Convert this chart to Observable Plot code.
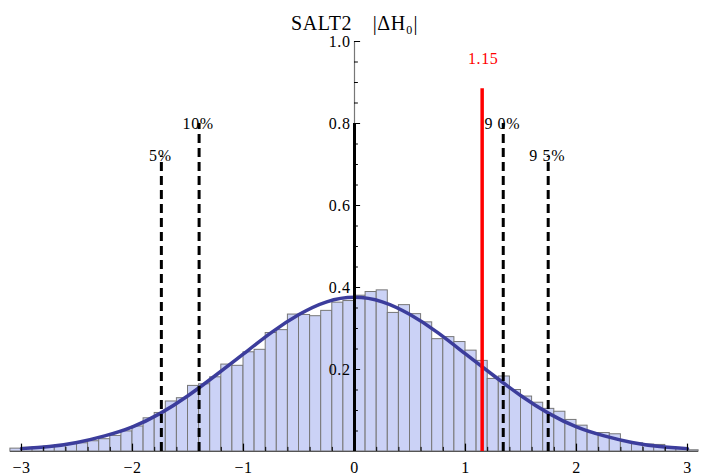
<!DOCTYPE html>
<html><head><meta charset="utf-8">
<script src="https://cdn.jsdelivr.net/npm/d3@7"></script>
<script src="https://cdn.jsdelivr.net/npm/@observablehq/plot@0.6"></script>
<style>body{margin:0;background:#fff} svg text{letter-spacing:0.6px}</style>
</head><body><div id="chart"></div>
<script>
// Histogram bins (left edges, width 0.1) and heights
const binLo = [-3.1,-3.0,-2.9,-2.8,-2.7,-2.6,-2.5,-2.4,-2.3,-2.2,-2.1,-2.0,-1.9,-1.8,-1.7,-1.6,-1.5,-1.4,-1.3,-1.2,-1.1,-1.0,-0.9,-0.8,-0.7,-0.6,-0.5,-0.4,-0.3,-0.2,-0.1,
  0.0,0.1,0.2,0.3,0.4,0.5,0.6,0.7,0.8,0.9,1.0,1.1,1.2,1.3,1.4,1.5,1.6,1.7,1.8,1.9,2.0,2.1,2.2,2.3,2.4,2.5,2.6,2.7,2.8,2.9,3.0];
const binHeight = [0.007,0.009,0.010,0.012,0.015,0.018,0.020,0.025,0.030,0.038,0.049,0.061,0.081,0.094,0.122,0.130,0.160,0.164,0.181,0.212,0.209,0.242,0.248,0.289,0.296,0.334,0.333,0.330,0.343,0.363,0.367,
  0.380,0.389,0.393,0.338,0.357,0.335,0.315,0.274,0.279,0.267,0.246,0.221,0.177,0.183,0.150,0.134,0.119,0.104,0.097,0.077,0.063,0.045,0.045,0.042,0.023,0.020,0.017,0.016,0.010,0.006,0.003];
const binWidth = 0.1;

// Fitted curve, points
const curveX = [-3,-2.75,-2.5,-2.25,-2,-1.75,-1.5,-1.25,-1,-0.75,-0.5,-0.25,0,0.25,0.5,0.75,1,1.25,1.5,1.75,2,2.25,2.5,2.75,3];
const curveY = [0.007,0.012,0.022,0.038,0.060,0.093,0.136,0.186,0.238,0.290,0.334,0.365,0.376,0.365,0.334,0.290,0.238,0.186,0.136,0.093,0.060,0.038,0.022,0.012,0.007];

// Percentile markers
const pctLabels = ["5%","10%","9 0%","9 5%"];
const pctX = [-1.74,-1.40,1.34,1.745];
const pctTop = [0.72,0.80,0.80,0.72];

// Observed value
const obsX = [1.15];
const obsTop = [0.885];
const obsLabel = ["1.15"];
const obsLabelY = [0.957];

const zeroX = [0];
const zeroTop = [0.80];

const titleText = ["SALT2\u2003|ΔH₀|"];

const xTicks = [-3,-2,-1,0,1,2,3];
const xMinor = [-2.8,-2.6,-2.4,-2.2,-1.8,-1.6,-1.4,-1.2,-0.8,-0.6,-0.4,-0.2,0.2,0.4,0.6,0.8,1.2,1.4,1.6,1.8,2.2,2.4,2.6,2.8];
const yTicks = [0.2,0.4,0.6,0.8,1.0];
const yMinor = [0.05,0.1,0.15,0.25,0.3,0.35,0.45,0.5,0.55,0.65,0.7,0.75,0.85,0.9,0.95];

const bins = binLo.map((x, i) => ({x1: x, x2: x + binWidth, y: binHeight[i]}));
const curve = curveX.map((x, i) => ({x, y: curveY[i]}));
const pcts = pctLabels.map((t, i) => ({t, x: pctX[i], top: pctTop[i]}));
const obs = obsX.map((x, i) => ({x, top: obsTop[i], label: obsLabel[i], ly: obsLabelY[i]}));
const zero = zeroX.map((x, i) => ({x, top: zeroTop[i]}));

const fmt = d => d < 0 ? "\u2212" + Math.abs(d) : String(d);
const serif = "Liberation Serif, Times New Roman, serif";

const chart = Plot.plot({
  width: 705,
  height: 475,
  marginLeft: 9.9,
  marginRight: 6.9,
  marginTop: 41,
  marginBottom: 24,
  style: {fontFamily: serif, background: "#fff", overflow: "visible"},
  x: {domain: [-3.1, 3.1], axis: null},
  y: {domain: [0, 1.0], axis: null},
  marks: [
    Plot.rectY(bins, {x1: "x1", x2: "x2", y: "y", fill: "#cbd2f6", stroke: "#777", strokeWidth: 1}),
    Plot.line(curve, {x: "x", y: "y", curve: "natural", stroke: "#3c3d9c", strokeWidth: 3.5}),
    // x axis
    Plot.ruleY([0], {stroke: "#555", strokeWidth: 1.2}),
    Plot.ruleX(xTicks, {x: d => d, y1: 0, y2: 0.018, stroke: "#000", strokeWidth: 1.2}),
    Plot.ruleX(xMinor, {x: d => d, y1: 0, y2: 0.01, stroke: "#000", strokeWidth: 1}),
    Plot.text(xTicks, {x: d => d, y: 0, text: fmt, dy: 16, fontSize: 16, fill: "#000"}),
    // y axis
    Plot.ruleX([0], {y1: 0, y2: 1.0, stroke: "#777", strokeWidth: 1.2}),
    Plot.ruleY(yTicks, {y: d => d, x1: 0, x2: 0.055, stroke: "#000", strokeWidth: 1}),
    Plot.ruleY(yMinor, {y: d => d, x1: 0, x2: 0.035, stroke: "#000", strokeWidth: 1}),
    Plot.text(yTicks, {x: 0, y: d => d, text: d => d.toFixed(1), textAnchor: "end", dx: -4, fontSize: 16, fill: "#000"}),
    // percentile lines
    Plot.ruleX(pcts, {x: "x", y1: 0, y2: "top", stroke: "#000", strokeWidth: 3, strokeDasharray: "9,5"}),
    Plot.text(pcts, {x: "x", y: "top", text: "t", fontSize: 16, fill: "#000", dx: -1}),
    // zero line
    Plot.ruleX(zero, {x: "x", y1: 0, y2: "top", stroke: "#000", strokeWidth: 3}),
    // observed
    Plot.ruleX(obs, {x: "x", y1: 0, y2: "top", stroke: "#ff0000", strokeWidth: 3.5}),
    Plot.text(obs, {x: "x", y: "ly", text: "label", fontSize: 16, fill: "#ff0000", dx: 1}),
    // title
    Plot.text(titleText, {frameAnchor: "top", lineAnchor: "bottom", dy: -12, fontSize: 20, fill: "#000"})
  ]
});
document.getElementById("chart").appendChild(chart);
</script>
</body></html>
